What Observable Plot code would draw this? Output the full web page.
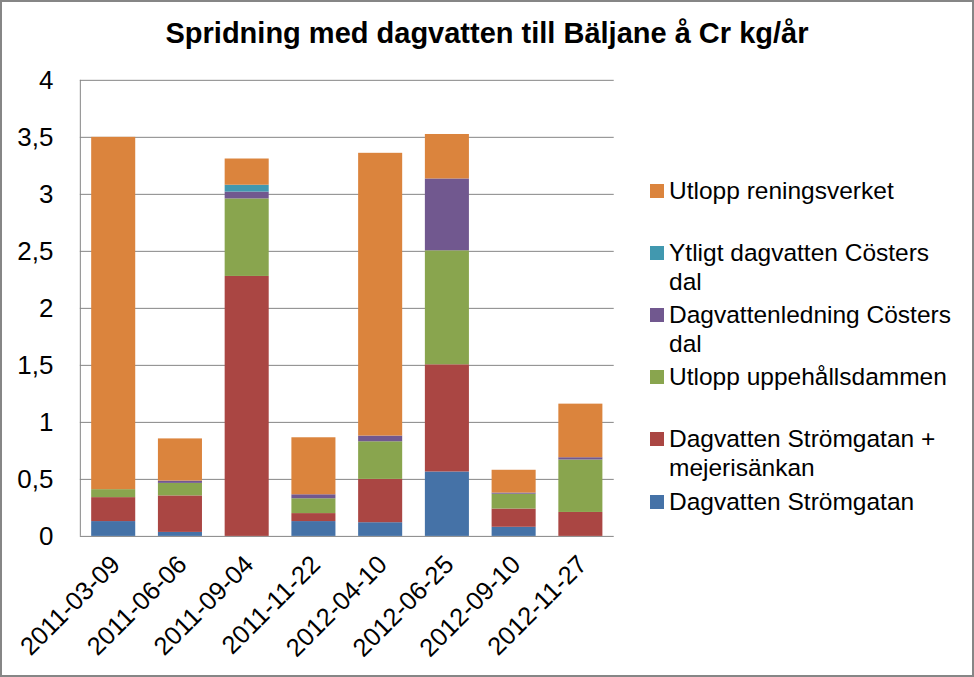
<!DOCTYPE html>
<html>
<head>
<meta charset="utf-8">
<script src="https://cdn.jsdelivr.net/npm/d3@7"></script>
<script src="https://cdn.jsdelivr.net/npm/@observablehq/plot@0.6"></script>
<style>
  html, body { margin: 0; padding: 0; background: #fff; }
  #chart { position: relative; width: 974px; height: 677px; box-sizing: border-box; border: 2px solid #868686; overflow: hidden; font-family: "Liberation Sans", Arial, sans-serif; }
  #title { position: absolute; left: -2px; top: 15px; width: 974px; text-align: center; font-weight: bold; font-size: 29px; color: #000; }
  #plot { position: absolute; left: -2px; top: -2px; }
  #legend { position: absolute; left: 648px; top: 0; font-size: 24.5px; color: #000; }
  .item { position: absolute; left: 0; width: 320px; line-height: 29px; }
  .sw { position: absolute; left: 0; top: 8px; width: 14px; height: 14px; }
  .txt { margin-left: 19px; white-space: nowrap; }
</style>
</head>
<body>
<div id="chart">
  <div id="plot"></div>
  <div id="title">Spridning med dagvatten till Bäljane å Cr kg/år</div>
  <div id="legend"></div>
</div>
<script>
const categories = ["2011-03-09","2011-06-06","2011-09-04","2011-11-22","2012-04-10","2012-06-25","2012-09-10","2012-11-27"];
const seriesNames = ["Dagvatten Strömgatan","Dagvatten Strömgatan + mejerisänkan","Utlopp uppehållsdammen","Dagvattenledning Cösters dal","Ytligt dagvatten Cösters dal","Utlopp reningsverket"];
const seriesColors = ["#4572A7","#AA4643","#89A54E","#71588F","#4198AF","#DB843D"];
const stromgatan      = [0.13, 0.035, 0,    0.13,  0.12, 0.565, 0.08, 0];
const stromMejeri     = [0.21, 0.32,  2.28, 0.07,  0.38, 0.94,  0.16, 0.21];
const uppehall        = [0.07, 0.11,  0.68, 0.13,  0.33, 1.00,  0.13, 0.46];
const ledningCoster   = [0,    0.02,  0.06, 0.035, 0.05, 0.63,  0.01, 0.02];
const ytligtCoster    = [0,    0,     0.06, 0,     0,    0,     0,    0];
const reningsverket   = [3.09, 0.37,  0.23, 0.50,  2.48, 0.39,  0.20, 0.47];
const yTicks = [0, 0.5, 1, 1.5, 2, 2.5, 3, 3.5, 4];
const legendOrder = ["Utlopp reningsverket","Ytligt dagvatten Cösters dal","Dagvattenledning Cösters dal","Utlopp uppehållsdammen","Dagvatten Strömgatan + mejerisänkan","Dagvatten Strömgatan"];
const legendLines = [["Utlopp reningsverket"],["Ytligt dagvatten Cösters","dal"],["Dagvattenledning Cösters","dal"],["Utlopp uppehållsdammen"],["Dagvatten Strömgatan +","mejerisänkan"],["Dagvatten Strömgatan"]];

const seriesValues = [stromgatan, stromMejeri, uppehall, ledningCoster, ytligtCoster, reningsverket];
const data = [];
categories.forEach((c, i) => {
  seriesNames.forEach((s, j) => data.push({date: c, series: s, value: seriesValues[j][i]}));
});

const fmt = d => String(d).replace(".", ",");

const plot = Plot.plot({
  width: 974,
  height: 677,
  marginTop: 80,
  marginLeft: 80,
  marginRight: 359,
  marginBottom: 140,
  style: {fontFamily: '"Liberation Sans", Arial, sans-serif', fontSize: "26px", background: "transparent", color: "#000"},
  x: {domain: categories, paddingInner: 0.34, paddingOuter: 0.17, align: 0.5, round: false},
  y: {domain: [0, 4]},
  color: {domain: seriesNames, range: seriesColors},
  marks: [
    Plot.ruleY(yTicks, {stroke: "#868686", strokeWidth: 1}),
    Plot.barY(data, Plot.stackY({x: "date", y: "value", fill: "series", order: seriesNames})),
    Plot.axisY({ticks: yTicks, tickFormat: fmt, tickSize: 0, tickPadding: 27, fontSize: 26, label: null, fill: "#000"}),
    Plot.axisX({tickRotate: -45, tickSize: 0, tickPadding: 24, dx: 2, fontSize: 25.5, label: null, fill: "#000"}),
  ]
});
document.getElementById("plot").appendChild(plot);

// left axis line
const svg = d3.select(plot);
svg.append("line").attr("x1", 80.5).attr("x2", 80.5).attr("y1", 80).attr("y2", 537).attr("stroke", "#868686");

const legend = document.getElementById("legend");
const itemTops = [174, 236, 298, 360, 422, 485];
legendOrder.forEach((name, k) => {
  const it = document.createElement("div");
  it.className = "item";
  it.style.top = itemTops[k] + "px";
  const sw = document.createElement("div");
  sw.className = "sw";
  sw.style.background = seriesColors[seriesNames.indexOf(name)];
  it.appendChild(sw);
  legendLines[k].forEach(line => {
    const t = document.createElement("div");
    t.className = "txt";
    t.textContent = line;
    it.appendChild(t);
  });
  legend.appendChild(it);
});
</script>
</body>
</html>
